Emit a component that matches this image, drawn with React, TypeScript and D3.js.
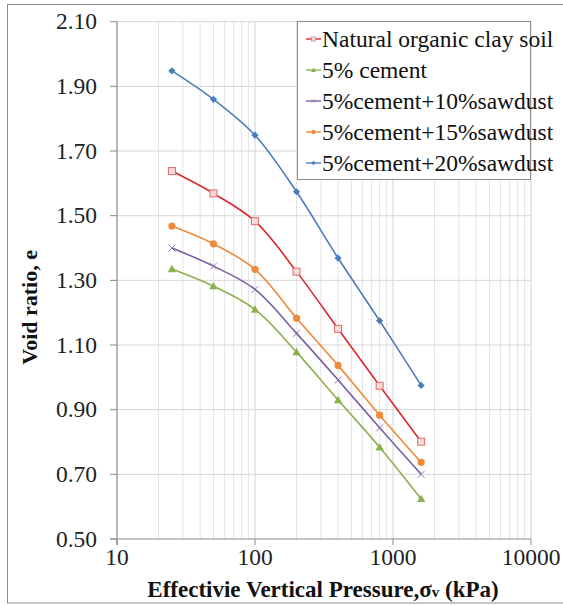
import React from "react";
import * as d3 from "d3";

// Applied pressure steps (kPa)
const pressures = [25, 50, 100, 200, 400, 800, 1600];

// Void ratio for each mix
const naturalClay = [1.638, 1.569, 1.483, 1.327, 1.15, 0.974, 0.801];
const cement5 = [1.335, 1.282, 1.21, 1.078, 0.93, 0.784, 0.624];
const sawdust10 = [1.4, 1.344, 1.272, 1.136, 0.992, 0.844, 0.7];
const sawdust15 = [1.468, 1.413, 1.334, 1.183, 1.037, 0.883, 0.737];
const sawdust20 = [1.948, 1.86, 1.749, 1.574, 1.369, 1.175, 0.975];

const seriesNames = [
  "Natural organic clay soil",
  "5% cement",
  "5%cement+10%sawdust",
  "5%cement+15%sawdust",
  "5%cement+20%sawdust",
];

const yTicks = [0.5, 0.7, 0.9, 1.1, 1.3, 1.5, 1.7, 1.9, 2.1];
const xTicks = [10, 100, 1000, 10000];

type Marker = "square" | "triangle" | "x" | "circle" | "diamond";

const series: { name: string; values: number[]; color: string; marker: Marker }[] = [
  { name: seriesNames[0], values: naturalClay, color: "#D8282C", marker: "square" },
  { name: seriesNames[1], values: cement5, color: "#8DB04E", marker: "triangle" },
  { name: seriesNames[2], values: sawdust10, color: "#7A5FA3", marker: "x" },
  { name: seriesNames[3], values: sawdust15, color: "#EE8A3C", marker: "circle" },
  { name: seriesNames[4], values: sawdust20, color: "#4A7EBB", marker: "diamond" },
];

const W = 563;
const H = 605;
const FONT = '"Liberation Serif", "Times New Roman", Times, serif';
const txt = { fontFamily: FONT };

function MarkerShape({ type, x, y, color }: { type: Marker; x: number; y: number; color: string }) {
  switch (type) {
    case "square":
      return <rect x={x - 3.5} y={y - 3.5} width={7} height={7} fill="#F6DAD8" stroke="#E06A66" strokeWidth={1} />;
    case "triangle":
      return <path d={`M${x},${y - 4.2}L${x + 4.2},${y + 3.2}L${x - 4.2},${y + 3.2}Z`} fill={color} />;
    case "x":
      return (
        <path
          d={`M${x - 3.5},${y - 3.5}L${x + 3.5},${y + 3.5}M${x - 3.5},${y + 3.5}L${x + 3.5},${y - 3.5}`}
          stroke={color}
          strokeWidth={1}
          opacity={0.8}
        />
      );
    case "circle":
      return <circle cx={x} cy={y} r={3.6} fill={color} />;
    case "diamond":
      return <path d={`M${x},${y - 3.6}L${x + 3.6},${y}L${x},${y + 3.6}L${x - 3.6},${y}Z`} fill={color} />;
  }
}

export default function App() {
  const x = d3.scaleLog().domain([10, 10000]).range([117, 531]);
  const y = d3.scaleLinear().domain([0.5, 2.1]).range([539, 21.7]);

  const line = d3
    .line<number>()
    .x((_, i) => x(pressures[i]))
    .y((v) => y(v))
    .curve(d3.curveCatmullRom.alpha(0.5));

  const minorX: number[] = [];
  for (const dec of [10, 100, 1000]) {
    for (let k = 2; k <= 9; k++) minorX.push(dec * k);
  }

  const left = x.range()[0];
  const right = x.range()[1];
  const top = y.range()[1];
  const bottom = y.range()[0];

  const legX = 297;
  const legY = 21;
  const rowGap = 31;

  return (
    <svg width={W} height={H} style={{ position: "absolute", left: 0, top: 0, background: "#fff" }}>
      <rect x={7.5} y={4.5} width={W + 10} height={598.5} fill="#fff" stroke="#8C8C8C" strokeWidth={1} />

      {/* minor vertical gridlines */}
      {minorX.map((v) => (
        <line key={"mx" + v} x1={x(v)} x2={x(v)} y1={top} y2={bottom} stroke="#E4E4E4" strokeWidth={1} />
      ))}
      {/* major vertical gridlines */}
      {xTicks.slice(1).map((v) => (
        <line key={"Mx" + v} x1={x(v)} x2={x(v)} y1={top} y2={bottom} stroke="#D2D2D2" strokeWidth={1} />
      ))}
      {/* horizontal gridlines */}
      {yTicks.slice(1).map((v) => (
        <line key={"gy" + v} x1={left} x2={right} y1={y(v)} y2={y(v)} stroke="#D6D6D6" strokeWidth={1} />
      ))}

      {/* axes */}
      <line x1={left} x2={left} y1={top} y2={bottom + 6} stroke="#8A8A8A" strokeWidth={1.2} />
      <line x1={left - 7} x2={right} y1={bottom} y2={bottom} stroke="#8A8A8A" strokeWidth={1.2} />
      {yTicks.map((v) => (
        <line key={"ty" + v} x1={left - 7} x2={left} y1={y(v)} y2={y(v)} stroke="#8A8A8A" strokeWidth={1} />
      ))}
      {xTicks.map((v) => (
        <line key={"tx" + v} x1={x(v)} x2={x(v)} y1={bottom} y2={bottom + 6} stroke="#8A8A8A" strokeWidth={1} />
      ))}

      {/* tick labels */}
      {yTicks.map((v) => (
        <text key={"ly" + v} x={97} y={y(v) + 7.7} textAnchor="end" fontSize={23.5} fill="#222" style={txt}>
          {v.toFixed(2)}
        </text>
      ))}
      {xTicks.map((v) => (
        <text key={"lx" + v} x={x(v)} y={565} textAnchor="middle" fontSize={23.5} fill="#222" style={txt}>
          {v}
        </text>
      ))}

      {/* series */}
      {series.map((s) => (
        <g key={s.name}>
          <path d={line(s.values) || ""} fill="none" stroke={s.color} strokeWidth={1.6} />
          {s.values.map((v, i) => (
            <MarkerShape key={i} type={s.marker} x={x(pressures[i])} y={y(v)} color={s.color} />
          ))}
        </g>
      ))}

      {/* legend */}
      <rect x={legX + 0.5} y={legY + 0.5} width={233} height={158} fill="#fff" stroke="#8C8C8C" strokeWidth={1} />
      {series.map((s, i) => {
        const cy = legY + 18 + i * rowGap;
        return (
          <g key={"lg" + s.name}>
            <line x1={legX + 9} x2={legX + 24} y1={cy} y2={cy} stroke={s.color} strokeWidth={1.4} />
            <g transform={`translate(${legX + 16.5},${cy}) scale(0.6)`}>
              <MarkerShape type={s.marker} x={0} y={0} color={s.color} />
            </g>
            <text x={legX + 25} y={cy + 7.8} fontSize={23.5} fill="#111" style={txt}>
              {s.name}
            </text>
          </g>
        );
      })}

      {/* axis titles */}
      <text
        transform={`translate(37,${(top + bottom) / 2 + 27}) rotate(-90)`}
        textAnchor="middle"
        fontSize={22}
        fontWeight="bold"
        fill="#111"
        style={txt}
      >
        Void ratio, e
      </text>
      <text x={323} y={597} textAnchor="middle" fontSize={23} fontWeight="bold" fill="#111" style={txt}>
        Effectivie Vertical Pressure,σ<tspan fontSize={15}>v</tspan> (kPa)
      </text>
    </svg>
  );
}
